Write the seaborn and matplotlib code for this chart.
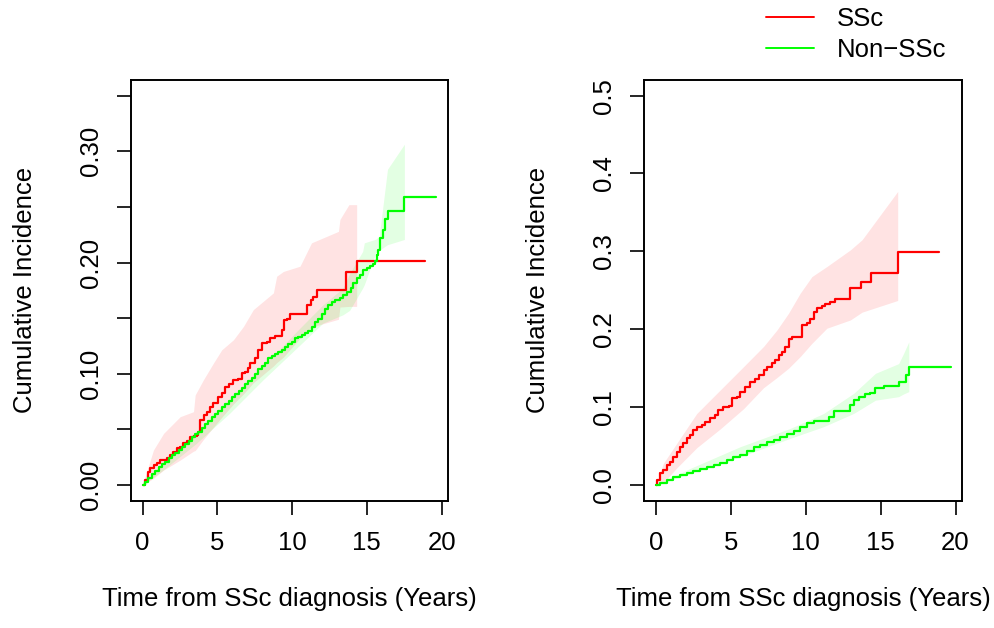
import pandas as pd
import matplotlib
matplotlib.use('Agg')
import matplotlib.pyplot as plt
import seaborn as sns

sns.set_theme(style='white')
plt.rcParams['font.family'] = ['Liberation Sans', 'DejaVu Sans']
plt.rcParams['text.color'] = 'black'
plt.rcParams['axes.labelcolor'] = 'black'
plt.rcParams['xtick.color'] = 'black'
plt.rcParams['ytick.color'] = 'black'

RED = '#FF0000'
GREEN = '#00FF00'

# ---- left panel: SSc cumulative incidence (step corners) ----
left_ssc_t = [0, 0.18, 0.34, 0.51, 0.74, 0.96, 1.18, 1.41, 1.63, 1.85, 2.07, 2.30, 2.52,
              2.74, 2.96, 3.19, 3.41, 3.63, 3.74, 3.85, 4.08, 4.30, 4.52, 4.74, 5.08, 5.30,
              5.52, 5.75, 6.08, 6.41, 6.64, 6.86, 7.08, 7.19, 7.53, 7.75, 7.97, 8.31, 8.53,
              8.86, 9.31, 9.47, 9.64, 9.87, 11.02, 11.25, 11.42, 11.65, 13.61, 14.32, 18.88]
left_ssc_ci = [0, 0.0045, 0.012, 0.015, 0.018, 0.0195, 0.0225, 0.023, 0.024, 0.027, 0.030,
               0.033, 0.0344, 0.0374, 0.0398, 0.0428, 0.044, 0.0449, 0.0479, 0.0584, 0.0629,
               0.0659, 0.0698, 0.0734, 0.0794, 0.0824, 0.0883, 0.0913, 0.0943, 0.0958,
               0.1003, 0.1018, 0.1048, 0.1093, 0.1138, 0.1213, 0.1273, 0.1288, 0.1318,
               0.1339, 0.1393, 0.1482, 0.1497, 0.1542, 0.1617, 0.1662, 0.1692, 0.1752,
               0.1917, 0.2013, 0.2013]
left_ssc_band_t = [0, 0.73, 1.41, 2.52, 3.41, 3.52, 4.07, 4.74, 5.3, 6.08, 6.75, 7.41, 8.75,
                   8.97, 9.42, 10.53, 11.3, 13.1, 13.2, 13.8, 14.32]
left_ssc_up = [0, 0.0315, 0.0465, 0.0615, 0.066, 0.081, 0.0946, 0.1096, 0.1216, 0.1306,
               0.1426, 0.1577, 0.1727, 0.1877, 0.192, 0.1967, 0.2177, 0.228, 0.2387,
               0.252, 0.252]
left_ssc_lo = [0, 0.006, 0.0135, 0.0225, 0.0305, 0.031, 0.041, 0.052, 0.061, 0.073,
               0.082, 0.092, 0.107, 0.11, 0.115, 0.132, 0.142, 0.149, 0.160, 0.1606,
               0.1606]

# ---- left panel: Non-SSc ----
left_non_t = [0, 0.18, 0.40, 0.63, 0.85, 1.07, 1.29, 1.52, 1.74, 1.96, 2.18, 2.41, 2.63,
              2.85, 3.08, 3.30, 3.52, 3.74, 3.97, 4.19, 4.41, 4.63, 4.86, 5.08, 5.30, 5.52,
              5.75, 5.97, 6.19, 6.42, 6.64, 6.86, 7.08, 7.31, 7.53, 7.75, 7.97, 8.20, 8.42,
              8.64, 8.86, 9.09, 9.31, 9.53, 9.76, 9.98, 10.2, 10.42, 10.65, 10.87, 11.09,
              11.31, 11.54, 11.76, 11.98, 12.2, 12.43, 12.65, 12.87, 13.21, 13.43, 13.65,
              13.92, 14.1, 14.32, 14.54, 14.77, 14.99, 15.21, 15.43, 15.54, 15.65, 15.77,
              15.85, 16.1, 16.2, 16.4, 17.51, 19.6]
left_non_ci = [0, 0.003, 0.006, 0.0099, 0.0129, 0.0159, 0.0186, 0.021, 0.024, 0.027,
               0.0293, 0.032, 0.0344, 0.0368, 0.0398, 0.0428, 0.0455, 0.0479, 0.0509,
               0.0548, 0.0578, 0.0608, 0.0638, 0.0668, 0.0698, 0.0728, 0.0758, 0.0788,
               0.0818, 0.0848, 0.0877, 0.0907, 0.0937, 0.0967, 0.0997, 0.1039, 0.1069,
               0.1099, 0.1138, 0.1159, 0.1177, 0.1198, 0.1213, 0.1237, 0.1264, 0.1288,
               0.1318, 0.1327, 0.1348, 0.1369, 0.1387, 0.1417, 0.1468, 0.1497, 0.1542,
               0.1578, 0.1617, 0.1647, 0.1662, 0.1677, 0.1707, 0.1737, 0.1767, 0.1812,
               0.1857, 0.1887, 0.1932, 0.1947, 0.1968, 0.1986, 0.2016, 0.2066, 0.2111,
               0.222, 0.229, 0.2387, 0.246, 0.2585, 0.2585]
left_non_band_t = [0, 1.38, 3.6, 5.83, 8.06, 10.3, 12.07, 13.4, 13.85, 14.72, 14.83,
                   15.6, 15.83, 16.38, 17.51]
left_non_up = [0, 0.021, 0.0465, 0.0766, 0.1066, 0.138, 0.162, 0.177, 0.19, 0.21, 0.2177,
               0.221, 0.2237, 0.2838, 0.3063]
left_non_lo = [0, 0.0135, 0.0375, 0.0646, 0.0946, 0.123, 0.1456, 0.153, 0.157, 0.177,
               0.180, 0.2087, 0.211, 0.216, 0.2207]

# ---- right panel: SSc ----
right_ssc_t = [0, 0.04, 0.27, 0.49, 0.71, 0.94, 1.16, 1.38, 1.61, 1.83, 2.05, 2.27, 2.50,
               2.72, 3.05, 3.28, 3.61, 3.95, 4.17, 4.50, 4.84, 5.06, 5.40, 5.62, 5.95, 6.29,
               6.62, 6.85, 7.18, 7.40, 7.74, 7.96, 8.18, 8.40, 8.63, 8.85, 9.07, 9.74, 10.08,
               10.30, 10.52, 10.75, 11.08, 11.31, 11.64, 11.97, 12.93, 13.69, 14.36, 16.14,
               18.89]
right_ssc_ci = [0, 0.0064, 0.015, 0.0193, 0.0257, 0.030, 0.0364, 0.0428, 0.0493, 0.0536,
                0.060, 0.0643, 0.0707, 0.0741, 0.0771, 0.0814, 0.0857, 0.090, 0.0964,
                0.1007, 0.102, 0.1114, 0.1135, 0.12, 0.1264, 0.1328, 0.1358, 0.1414,
                0.1478, 0.1521, 0.1564, 0.1607, 0.1671, 0.1714, 0.1778, 0.1872, 0.1898,
                0.2057, 0.2078, 0.2129, 0.2228, 0.2271, 0.2301, 0.2326, 0.2356, 0.2386,
                0.2528, 0.2613, 0.2721, 0.2986, 0.2986]
right_ssc_band_t = [0, 0.49, 1.38, 2.72, 4.28, 5.84, 7.18, 8.07, 8.85, 9.63, 10.41,
                    11.41, 12.98, 13.76, 16.14]
right_ssc_up = [0, 0.028, 0.0536, 0.092, 0.122, 0.152, 0.178, 0.199, 0.2207, 0.2464,
                0.2677, 0.2806, 0.302, 0.315, 0.377]
right_ssc_lo = [0, 0.003, 0.022, 0.048, 0.072, 0.098, 0.125, 0.138, 0.15, 0.165, 0.182,
                0.2014, 0.212, 0.222, 0.237]

# ---- right panel: Non-SSc ----
right_non_t = [0, 0.27, 0.71, 1.16, 1.61, 2.05, 2.50, 2.94, 3.39, 3.84, 4.28, 4.73, 5.17,
               5.62, 6.07, 6.51, 6.96, 7.40, 7.85, 8.29, 8.74, 9.18, 9.63, 10.08, 10.52,
               11.53, 11.86, 12.98, 13.2, 13.53, 13.98, 14.31, 14.65, 15.21, 16.21, 16.66,
               16.88, 19.67]
right_non_ci = [0, 0.003, 0.0064, 0.0099, 0.0129, 0.0159, 0.0184, 0.021, 0.0236, 0.0257,
                0.0287, 0.0321, 0.0356, 0.0386, 0.0441, 0.0484, 0.0518, 0.0553, 0.0578,
                0.0613, 0.0656, 0.0698, 0.075, 0.0793, 0.0827, 0.0878, 0.0955, 0.1028,
                0.1093, 0.1127, 0.117, 0.1187, 0.1242, 0.1272, 0.1328, 0.1414, 0.1512,
                0.1512]
right_non_band_t = [0, 2.27, 5.62, 8.96, 11.19, 13.2, 14.65, 16.2, 16.53, 16.88]
right_non_up = [0, 0.0214, 0.0493, 0.0728, 0.092, 0.1178, 0.1435, 0.156, 0.169, 0.184]
right_non_lo = [0, 0.015, 0.0364, 0.06, 0.075, 0.092, 0.109, 0.1135, 0.117, 0.12]

labels = ['SSc', 'Non\u2212SSc']


def draw_panel(ax, ssc, non, ylim, yticks, ylabels):
    # CI bands first
    t, up, lo = ssc[2]
    ax.fill_between(t, lo, up, color=RED, alpha=0.11, linewidth=0)
    t, up, lo = non[2]
    ax.fill_between(t, lo, up, color=GREEN, alpha=0.11, linewidth=0)

    for (t, y, _), col, lab in [(ssc, RED, labels[0]), (non, GREEN, labels[1])]:
        df = pd.DataFrame({'time': t, 'ci': y})
        sns.lineplot(data=df, x='time', y='ci', color=col, drawstyle='steps-post',
                     estimator=None, linewidth=1.6, label=lab, ax=ax)

    ax.set_xlim(-0.787, 20.45)
    ax.set_ylim(*ylim)
    ax.set_xticks([0, 5, 10, 15, 20])
    ax.set_xticklabels(['0', '5', '10', '15', '20'])
    ax.set_yticks(yticks)
    ax.set_yticklabels(ylabels, rotation=90, va='center')
    ax.tick_params(axis='both', direction='out', length=10, width=1.2, color='black',
                   labelsize=18.5, left=True, bottom=True)
    ax.tick_params(axis='x', pad=12)
    ax.tick_params(axis='y', pad=10)
    for s in ax.spines.values():
        s.set_visible(True)
        s.set_color('black')
        s.set_linewidth(1.4)
    ax.set_xlabel('Time from SSc diagnosis (Years)', fontsize=18.5)
    ax.set_ylabel('Cumulative Incidence', fontsize=18.5)
    ax.xaxis.set_label_coords(0.5, -0.205)
    ax.yaxis.set_label_coords(-0.295, 0.5)
    ax.get_legend().remove()


def main():
    fig = plt.figure(figsize=(9.95, 6.28), dpi=100)
    ax_left = fig.add_axes([0.1314, 0.2027, 0.3192, 0.6699])
    ax_right = fig.add_axes([0.6475, 0.2027, 0.3196, 0.6699])

    draw_panel(ax_left,
               (left_ssc_t, left_ssc_ci, (left_ssc_band_t, left_ssc_up, left_ssc_lo)),
               (left_non_t, left_non_ci, (left_non_band_t, left_non_up, left_non_lo)),
               (-0.014, 0.364),
               [0, 0.05, 0.10, 0.15, 0.20, 0.25, 0.30, 0.35],
               ['0.00', '', '0.10', '', '0.20', '', '0.30', ''])
    draw_panel(ax_right,
               (right_ssc_t, right_ssc_ci, (right_ssc_band_t, right_ssc_up, right_ssc_lo)),
               (right_non_t, right_non_ci, (right_non_band_t, right_non_up, right_non_lo)),
               (-0.02, 0.52),
               [0, 0.1, 0.2, 0.3, 0.4, 0.5],
               ['0.0', '0.1', '0.2', '0.3', '0.4', '0.5'])

    handles = [plt.Line2D([], [], color=RED, linewidth=1.4),
               plt.Line2D([], [], color=GREEN, linewidth=1.4)]
    fig.legend(handles, labels, loc='upper left', bbox_to_anchor=(0.770, 0.989),
               frameon=False, fontsize=18.5, handlelength=1.85, handletextpad=0.9,
               labelspacing=0.28, borderpad=0.0, borderaxespad=0.0)

    fig.savefig('out.png', dpi=100)


if __name__ == '__main__':
    main()
